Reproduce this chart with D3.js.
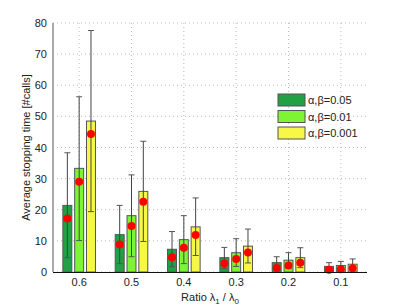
<!DOCTYPE html>
<html><head><meta charset="utf-8">
<script src="https://cdn.jsdelivr.net/npm/d3@7"></script>
<style>body{margin:0;background:#fff}svg{display:block}text{font-family:"Liberation Sans",Arial,sans-serif;fill:#222}</style>
</head><body>
<script>
const categories = ["0.6","0.5","0.4","0.3","0.2","0.1"];
const seriesNames = ["α,β=0.05","α,β=0.01","α,β=0.001"];
const barValues = [
  [21.4,12.0,7.3,4.6,3.0,1.8],
  [33.3,18.1,10.4,6.2,3.8,2.1],
  [48.5,25.9,14.5,8.3,4.6,2.5]
];
const errLow = [
  [4.6,2.7,1.7,1.1,0.9,0.6],
  [10.1,4.9,2.7,1.8,1.1,0.8],
  [19.4,9.8,5.3,2.9,1.4,1.0]
];
const errHigh = [
  [38.3,21.4,13.0,7.9,4.9,3.0],
  [56.3,31.2,18.1,10.7,6.2,3.4],
  [77.6,42.0,23.8,13.8,7.8,4.2]
];
const medians = [
  [17.2,8.8,4.7,2.7,1.3,0.7],
  [29.0,14.8,7.8,4.2,2.1,0.9],
  [44.3,22.6,11.9,6.3,3.0,1.2]
];
const yTicks = [0,10,20,30,40,50,60,70,80];
const colors = ["#21a046","#7df533","#f7f748"];

const W=407,H=306;
const m={l:53,r:40,t:23,b:34};
const svg=d3.select("body").append("svg").attr("width",W).attr("height",H);
const x=d3.scaleBand().domain(categories).range([m.l,W-m.r]).paddingInner(0).paddingOuter(0);
const y=d3.scaleLinear().domain([0,80]).range([H-m.b,m.t]);
const sub=d3.scaleBand().domain([0,1,2]).range([0,x.bandwidth()]).paddingInner(0.24).paddingOuter(0.835);

// grid
const g=svg.append("g");
g.selectAll(".hg").data(yTicks).enter().append("line")
 .attr("x1",m.l).attr("x2",W-m.r).attr("y1",d=>y(d)).attr("y2",d=>y(d))
 .attr("stroke","#bbb").attr("stroke-dasharray","1,3").attr("stroke-width",1);
g.selectAll(".vg").data(categories).enter().append("line")
 .attr("x1",d=>x(d)+x.bandwidth()/2).attr("x2",d=>x(d)+x.bandwidth()/2).attr("y1",m.t).attr("y2",H-m.b)
 .attr("stroke","#bbb").attr("stroke-dasharray","1,3").attr("stroke-width",1);

// bars
seriesNames.forEach((s,si)=>{
  const gs=svg.append("g");
  gs.selectAll("rect").data(categories).enter().append("rect")
    .attr("x",d=>x(d)+sub(si)).attr("width",sub.bandwidth())
    .attr("y",(d,i)=>y(barValues[si][i])).attr("height",(d,i)=>y(0)-y(barValues[si][i]))
    .attr("fill",colors[si]).attr("stroke","#555").attr("stroke-width",1);
});
// error bars
seriesNames.forEach((s,si)=>{
  const gs=svg.append("g");
  categories.forEach((c,i)=>{
    const cx=x(c)+sub(si)+sub.bandwidth()/2;
    gs.append("line").attr("x1",cx).attr("x2",cx).attr("y1",y(errLow[si][i])).attr("y2",y(errHigh[si][i])).attr("stroke","#444").attr("stroke-width",1);
    [errLow[si][i],errHigh[si][i]].forEach(v=>{
      gs.append("line").attr("x1",cx-3).attr("x2",cx+3).attr("y1",y(v)).attr("y2",y(v)).attr("stroke","#555").attr("stroke-width",1);
    });
  });
});
// medians
seriesNames.forEach((s,si)=>{
  svg.append("g").selectAll("circle").data(categories).enter().append("circle")
    .attr("cx",d=>x(d)+sub(si)+sub.bandwidth()/2).attr("cy",(d,i)=>y(medians[si][i])).attr("r",4)
    .attr("fill","#ff0000");
});

// axes
svg.append("line").attr("x1",m.l).attr("x2",m.l).attr("y1",m.t).attr("y2",H-m.b).attr("stroke","#aaa").attr("stroke-width",2);
svg.append("line").attr("x1",m.l).attr("x2",W-m.r).attr("y1",H-m.b+0.5).attr("y2",H-m.b+0.5).attr("stroke","#111").attr("stroke-width",1);
svg.selectAll(".yt").data(yTicks).enter().append("text")
 .attr("x",m.l-6).attr("y",d=>y(d)+4).attr("text-anchor","end").attr("font-size",11).text(d=>d);
svg.selectAll(".xt").data(categories).enter().append("text")
 .attr("x",d=>x(d)+x.bandwidth()/2).attr("y",H-m.b+14).attr("text-anchor","middle").attr("font-size",11).text(d=>d);

// labels
svg.append("text").attr("transform",`translate(30,${(m.t+H-m.b)/2}) rotate(-90)`).attr("text-anchor","middle").attr("font-size",11).text("Average stopping time [#calls]");
const xl=svg.append("text").attr("x",(m.l+W-m.r)/2).attr("y",H-5).attr("text-anchor","middle").attr("font-size",11);
xl.append("tspan").text("Ratio λ");
xl.append("tspan").attr("font-size",8).attr("dy",3).text("1");
xl.append("tspan").attr("dy",-3).text(" / λ");
xl.append("tspan").attr("font-size",8).attr("dy",3).text("0");

// legend
const lg=svg.append("g").attr("transform","translate(278,94)");
seriesNames.forEach((s,si)=>{
  lg.append("rect").attr("x",0).attr("y",si*16.5).attr("width",27).attr("height",12).attr("fill",colors[si]).attr("stroke","#555");
  lg.append("text").attr("x",30).attr("y",si*16.5+10).attr("font-size",11).text(s);
});
</script>
</body></html>
